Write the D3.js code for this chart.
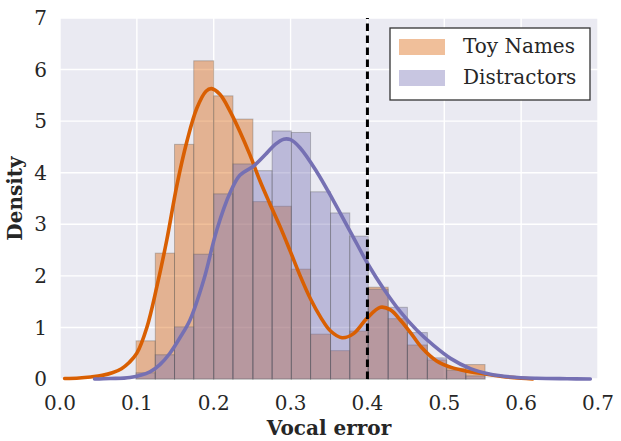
<!DOCTYPE html>
<html>
<head>
<meta charset="utf-8">
<script src="https://cdn.jsdelivr.net/npm/d3@7"></script>
<style>
  html, body { margin: 0; padding: 0; background: #fff; }
  svg { display: block; }
  text { font-family: 'DejaVu Serif', serif; fill: #262626; }
</style>
</head>
<body>
<div id="chart"></div>
<script>
// histogram bin edges (shared by both series)
const binEdges = [0.099, 0.124, 0.149, 0.174, 0.200, 0.225, 0.251, 0.276, 0.301, 0.326,
  0.352, 0.377, 0.401, 0.427, 0.452, 0.478, 0.503, 0.528, 0.553];

// bar densities per bin
const toyHist = [0.74, 2.44, 4.55, 6.17, 5.49, 5.04, 3.44, 3.35, 2.13, 0.87,
  0.55, 0.93, 1.78, 1.17, 0.66, 0.37, 0.21, 0.28];
const distHist = [0.12, 0.47, 1.01, 2.42, 3.59, 4.17, 4.04, 4.81, 4.78, 3.63,
  3.22, 2.77, 1.74, 1.39, 0.90, 0.41, 0.17, 0.06];

// kde curves, [x, density]
const toyKde = [[0.006, 0.01], [0.025, 0.02], [0.04, 0.04], [0.055, 0.07], [0.068, 0.12],
  [0.08, 0.2], [0.09, 0.32], [0.1, 0.5], [0.113, 1.0], [0.126, 1.79], [0.139, 2.7],
  [0.152, 3.75], [0.165, 4.6], [0.178, 5.25], [0.19, 5.58], [0.197, 5.63], [0.208, 5.52],
  [0.221, 5.2], [0.234, 4.8], [0.247, 4.35], [0.26, 3.85], [0.273, 3.4], [0.2865, 2.95],
  [0.299, 2.5], [0.3125, 2.0], [0.326, 1.55], [0.339, 1.2], [0.352, 0.93], [0.367, 0.8],
  [0.382, 0.88], [0.399, 1.17], [0.417, 1.39], [0.43, 1.34], [0.443, 1.14], [0.456, 0.9],
  [0.47, 0.62], [0.49, 0.35], [0.51, 0.22], [0.53, 0.15], [0.551, 0.1], [0.575, 0.05],
  [0.6, 0.015], [0.615, 0]];
const distKde = [[0.045, 0.0], [0.065, 0.01], [0.091, 0.03], [0.117, 0.14], [0.13, 0.28],
  [0.143, 0.5], [0.156, 0.8], [0.169, 1.14], [0.187, 1.92], [0.204, 2.89], [0.221, 3.6],
  [0.234, 3.95], [0.252, 4.13], [0.269, 4.38], [0.28, 4.55], [0.291, 4.65], [0.3, 4.64],
  [0.3125, 4.48], [0.334, 4.02], [0.356, 3.45], [0.378, 2.85], [0.401, 2.22], [0.421, 1.75],
  [0.443, 1.3], [0.464, 0.95], [0.486, 0.65], [0.508, 0.4], [0.534, 0.2], [0.56, 0.09],
  [0.586, 0.04], [0.62, 0.015], [0.66, 0.005], [0.69, 0.0]];

const threshold = 0.4;
const xTicks = [0, 0.1, 0.2, 0.3, 0.4, 0.5, 0.6, 0.7];
const yTicks = [0, 1, 2, 3, 4, 5, 6, 7];
const seriesNames = ['Toy Names', 'Distractors'];

const W = 621, H = 441;
const m = { left: 60, right: 23, top: 18, bottom: 62 };
const orange = '#d95f02', purple = '#7570b3';

const svg = d3.select('#chart').append('svg')
  .attr('width', W).attr('height', H);

const x = d3.scaleLinear().domain([0, 0.7]).range([m.left, W - m.right]);
const y = d3.scaleLinear().domain([0, 7]).range([H - m.bottom, m.top]);

// background + grid
svg.append('rect')
  .attr('x', x(0)).attr('y', y(7))
  .attr('width', x(0.7) - x(0)).attr('height', y(0) - y(7))
  .attr('fill', '#eaeaf2');

const grid = svg.append('g');
grid.selectAll('line.gx').data(xTicks).join('line')
  .attr('x1', d => x(d)).attr('x2', d => x(d))
  .attr('y1', y(0)).attr('y2', y(7))
  .attr('stroke', '#fff').attr('stroke-width', 1.4);
grid.selectAll('line.gy').data(yTicks).join('line')
  .attr('y1', d => y(d)).attr('y2', d => y(d))
  .attr('x1', x(0)).attr('x2', x(0.7))
  .attr('stroke', '#fff').attr('stroke-width', 1.4);

// bars
function drawHist(vals, color) {
  svg.append('g').selectAll('rect')
    .data(vals)
    .join('rect')
    .attr('x', (d, i) => x(binEdges[i]))
    .attr('width', (d, i) => x(binEdges[i + 1]) - x(binEdges[i]))
    .attr('y', d => y(d))
    .attr('height', d => y(0) - y(d))
    .attr('fill', color)
    .attr('fill-opacity', 0.4)
    .attr('stroke', '#555')
    .attr('stroke-opacity', 0.35)
    .attr('stroke-width', 1);
}
drawHist(toyHist, orange);
drawHist(distHist, purple);

// kde lines
const line = d3.line()
  .x(d => x(d[0]))
  .y(d => y(d[1]))
  .curve(d3.curveCatmullRom.alpha(0.5));

svg.append('path').datum(toyKde)
  .attr('d', line)
  .attr('fill', 'none').attr('stroke', orange)
  .attr('stroke-width', 3.6).attr('stroke-linecap', 'round');
svg.append('path').datum(distKde)
  .attr('d', line)
  .attr('fill', 'none').attr('stroke', purple)
  .attr('stroke-width', 3.6).attr('stroke-linecap', 'round');

// threshold
svg.append('line')
  .attr('x1', x(threshold)).attr('x2', x(threshold))
  .attr('y1', y(0)).attr('y2', y(7))
  .attr('stroke', '#000').attr('stroke-width', 3)
  .attr('stroke-dasharray', '7.5,4.5');

// tick labels
svg.append('g').selectAll('text')
  .data(xTicks).join('text')
  .attr('x', d => x(d)).attr('y', 410)
  .attr('text-anchor', 'middle')
  .attr('font-size', 20)
  .text(d3.format('.1f'));
svg.append('g').selectAll('text')
  .data(yTicks).join('text')
  .attr('x', 47).attr('y', d => y(d))
  .attr('dy', '0.36em')
  .attr('text-anchor', 'end')
  .attr('font-size', 20)
  .text(d => d);

// axis labels
svg.append('text')
  .attr('x', (x(0) + x(0.7)) / 2).attr('y', 435)
  .attr('text-anchor', 'middle')
  .attr('font-size', 20).attr('font-weight', 'bold')
  .text('Vocal error');
svg.append('text')
  .attr('transform', `translate(22,${(y(0) + y(7)) / 2}) rotate(-90)`)
  .attr('text-anchor', 'middle')
  .attr('font-size', 20).attr('font-weight', 'bold')
  .text('Density');

// legend
const lg = svg.append('g').attr('transform', 'translate(390,28)');
lg.append('rect')
  .attr('width', 200).attr('height', 72)
  .attr('fill', '#fff').attr('stroke', '#333').attr('stroke-width', 1.3);
const items = lg.selectAll('g.item')
  .data(seriesNames)
  .join('g')
  .classed('item', true)
  .attr('transform', (d, i) => `translate(0,${i * 31})`);
items.append('rect')
  .attr('x', 9).attr('y', 11)
  .attr('width', 46).attr('height', 16)
  .attr('fill', (d, i) => i === 0 ? orange : purple)
  .attr('fill-opacity', 0.4);
items.append('text')
  .attr('x', 73).attr('y', 25)
  .attr('font-size', 20)
  .text(d => d);
</script>
</body>
</html>
